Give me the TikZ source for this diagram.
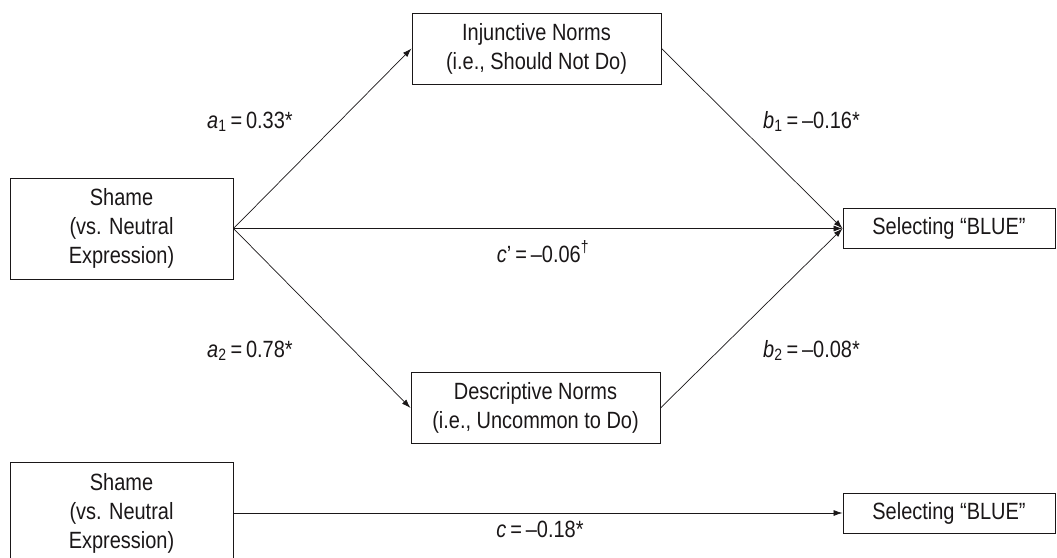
\documentclass[tikz,border=0pt]{standalone}
\usepackage{fontspec}
\setmainfont{Liberation Sans}[FakeStretch=0.85]
\usetikzlibrary{arrows.meta,positioning}
\definecolor{figink}{HTML}{1A1718}
\tikzset{
  var/.style={draw=figink, line width=1pt, align=center, text=figink, inner sep=0pt, font=\fontsize{23.5}{29}\selectfont},
  medbox/.style={var, minimum width=249pt, minimum height=71pt},
  outbox/.style={var, minimum width=212pt, minimum height=40pt},
  predbox/.style={var, minimum width=223pt, minimum height=101pt},
  effect/.style={-{Latex[length=9pt,width=6pt]}, line width=0.7pt, color=figink},
  coef/.style={text=figink, inner sep=0pt, font=\fontsize{23.5}{26}\selectfont},
}

\begin{document}
\begin{tikzpicture}[x=1pt,y=-1pt]
  \useasboundingbox (0,0) rectangle (1057,557);
  % mediation model
  \node[predbox] (shame) at (121.5,228.5) {Shame\\(vs. Neutral\\Expression)};
  \node[medbox] (inj) at (536.5,48.5) {Injunctive Norms\\(i.e., Should Not Do)};
  \node[medbox] (desc) at (535.5,408) {Descriptive Norms\\(i.e., Uncommon to Do)};
  \node[outbox] (blue) at (949,228.5) {Selecting “BLUE”};
  \foreach \a/\b in {shame/inj,shame/desc,shame/blue,inj/blue,desc/blue} \draw[effect] (\a.east) -- (\b.west);
  \node[coef, anchor=base west] (a1) at (207,128) {\textit{a}\textsubscript{1}\,=\,0.33*};
  \node[coef, anchor=base west] (b1) at (763,128) {\textit{b}\textsubscript{1}\,=\,–0.16*};
  \node[coef, anchor=base west] (a2) at (207,357) {\textit{a}\textsubscript{2}\,=\,0.78*};
  \node[coef, anchor=base west] (b2) at (763,357) {\textit{b}\textsubscript{2}\,=\,–0.08*};
  \node[coef, anchor=base] (cp) at (543,262) {\textit{c}’\,=\,–0.06\textsuperscript{\textdagger}};
  % total effect
  \node[predbox] (shame2) at (121.5,513) {Shame\\(vs. Neutral\\Expression)};
  \node[outbox] (blue2) at (949,513) {Selecting “BLUE”};
  \draw[effect] (shame2.east) -- (blue2.west);
  \node[coef, anchor=base] (c) at (540,537) {\textit{c}\,=\,–0.18*};
\end{tikzpicture}
\end{document}
